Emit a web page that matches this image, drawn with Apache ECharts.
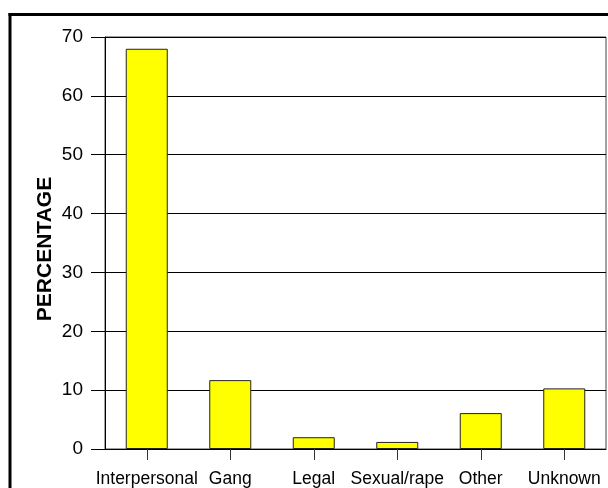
<!DOCTYPE html>
<html>
<head>
<meta charset="utf-8">
<script src="https://cdn.jsdelivr.net/npm/echarts@6/dist/echarts.min.js"></script>
<style>
  html, body { margin: 0; padding: 0; background: #fff; }
  #chart { width: 608px; height: 488px; }
</style>
</head>
<body>
<div id="chart"></div>
<script>
// Motive categories and their share of cases (percent)
const categories = ['Interpersonal', 'Gang', 'Legal', 'Sexual/rape', 'Other', 'Unknown'];
const percentages = [68, 11.7, 2.0, 1.2, 6.1, 10.3];
const yAxisTitle = 'PERCENTAGE';

const chart = echarts.init(document.getElementById('chart'), null, { renderer: 'canvas' });

chart.setOption({
  animation: false,
  backgroundColor: '#ffffff',
  textStyle: { fontFamily: 'Liberation Sans, Arial, sans-serif' },
  grid: {
    left: 105, right: 2, top: 37, bottom: 38,
    show: true, borderColor: '#444', borderWidth: 1
  },
  graphic: [
    // outer frame lines (top and left)
    { type: 'line', shape: { x1: 8.5, y1: 14.5, x2: 608, y2: 14.5 }, style: { stroke: '#000', lineWidth: 3 } },
    { type: 'line', shape: { x1: 10, y1: 13, x2: 10, y2: 488 }, style: { stroke: '#000', lineWidth: 3 } },
    // vertical value-axis title
    {
      type: 'text', x: 45, y: 249, rotation: Math.PI / 2,
      style: {
        text: yAxisTitle, fill: '#000',
        font: 'bold 21px "Liberation Sans", Arial, sans-serif',
        textAlign: 'center', textVerticalAlign: 'middle'
      }
    }
  ],
  xAxis: {
    type: 'category',
    data: categories,
    boundaryGap: true,
    axisLine: { show: true, lineStyle: { color: '#000', width: 1 } },
    axisTick: { show: true, alignWithLabel: true, length: 11, lineStyle: { color: '#333' } },
    axisLabel: { color: '#000', fontSize: 17.5, margin: 21, interval: 0 },
    splitLine: { show: false }
  },
  yAxis: {
    type: 'value',
    min: 0, max: 70, interval: 10,
    axisLine: { show: true, lineStyle: { color: '#000', width: 1 } },
    axisTick: { show: true, inside: false, length: 14, lineStyle: { color: '#000' } },
    axisLabel: { color: '#000', fontSize: 19, margin: 22 },
    splitLine: { show: true, lineStyle: { color: '#000', width: 1 } }
  },
  series: [{
    type: 'bar',
    data: percentages,
    barWidth: 42,
    itemStyle: { color: '#ffff00', borderColor: '#222', borderWidth: 1 }
  }]
});
</script>
</body>
</html>
